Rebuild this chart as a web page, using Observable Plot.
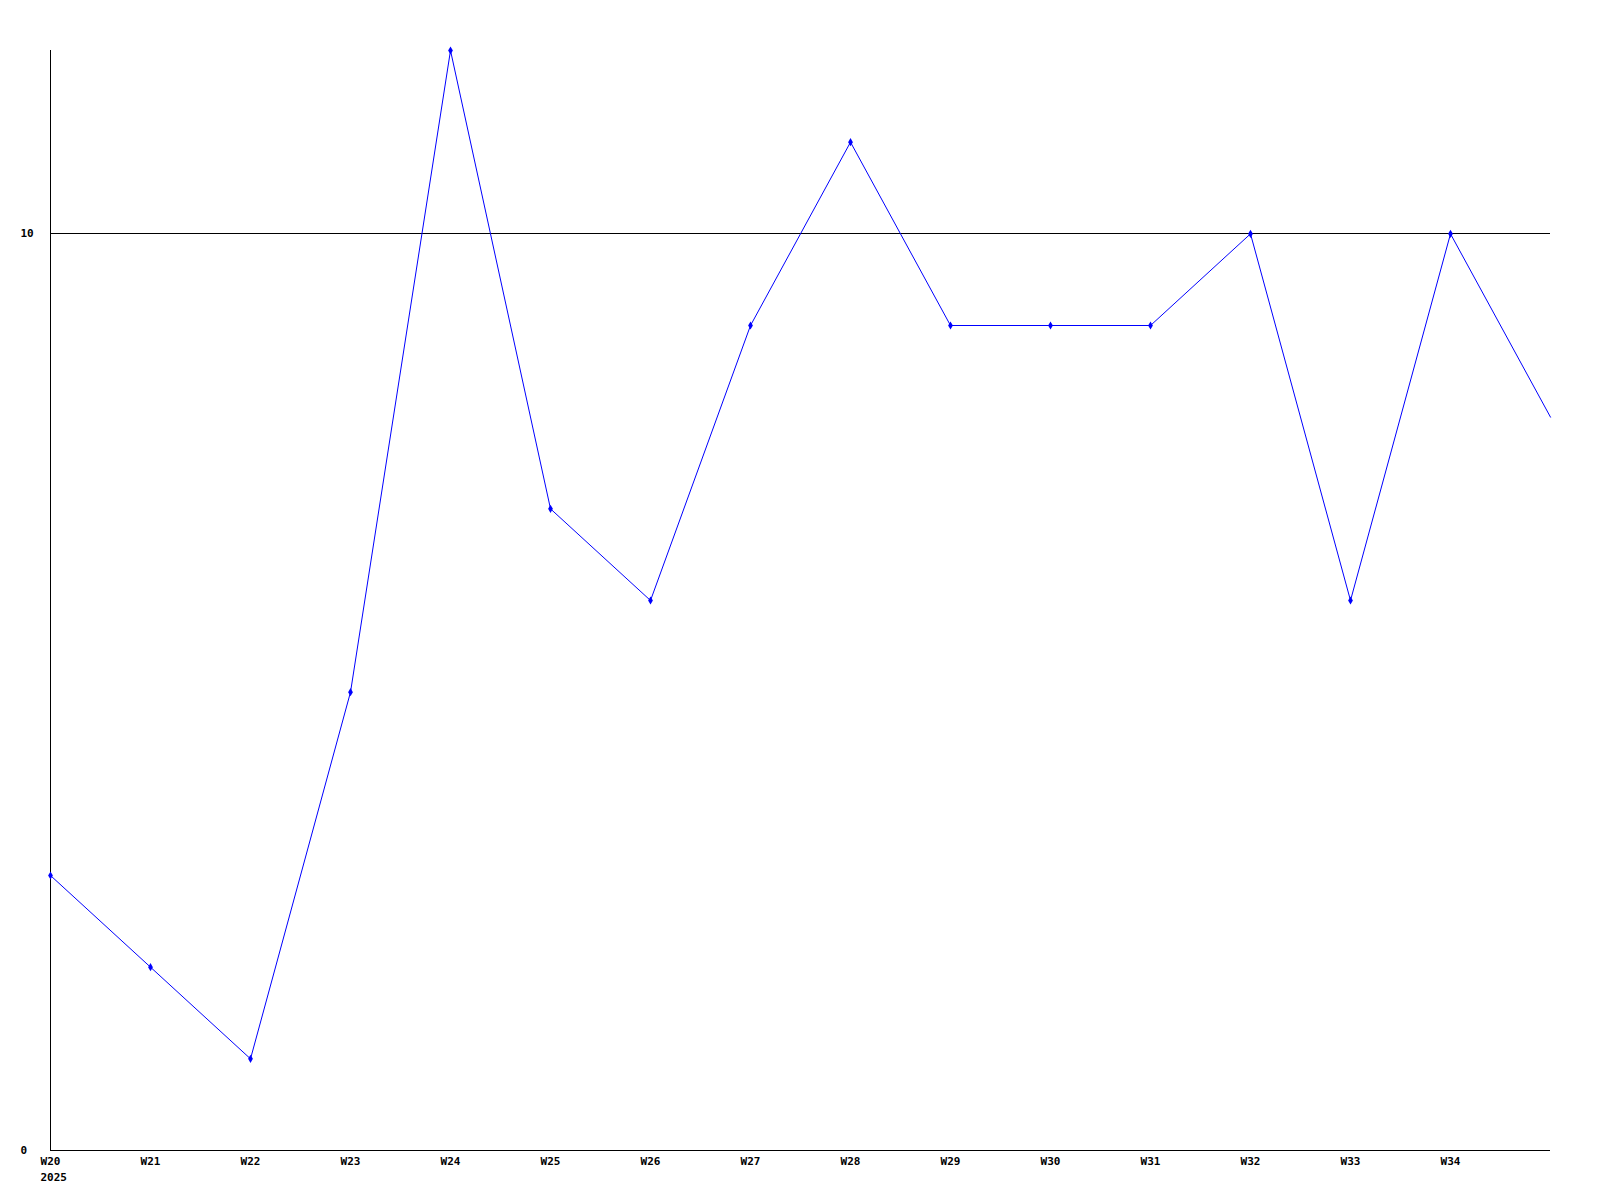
<!DOCTYPE html>
<html>
<head>
<meta charset="utf-8">
<script src="https://cdn.jsdelivr.net/npm/d3@7"></script>
<script src="https://cdn.jsdelivr.net/npm/@observablehq/plot@0.6"></script>
<style>
  html, body { margin: 0; padding: 0; background: #fff; }
</style>
</head>
<body>
<div id="chart"></div>
<script>
const weeks = [20, 21, 22, 23, 24, 25, 26, 27, 28, 29, 30, 31, 32, 33, 34, 35];
const values = [3, 2, 1, 5, 12, 7, 6, 9, 11, 9, 9, 9, 10, 6, 10, 8];
const tickWeeks = [20, 21, 22, 23, 24, 25, 26, 27, 28, 29, 30, 31, 32, 33, 34];
const yTicks = [0, 10];
const yearLabel = "2025";
const refLine = [10];

const data = weeks.map((w, i) => ({week: w, value: values[i]}));
const markerData = data.filter(d => d.week <= 34);

const chart = Plot.plot({
  width: 1600,
  height: 1200,
  marginLeft: 50,
  marginRight: 50,
  marginTop: 50,
  marginBottom: 50,
  style: {fontFamily: "'DejaVu Sans Mono', monospace", fontSize: "11px", fontWeight: "bold", background: "#fff", color: "#000", overflow: "visible"},
  x: {type: "linear", domain: [20, 35]},
  y: {domain: [0, 12]},
  marks: [
    Plot.ruleY(refLine, {stroke: "#000", strokeWidth: 1, shapeRendering: "crispEdges"}),
    Plot.ruleX([20], {stroke: "#000", strokeWidth: 1, shapeRendering: "crispEdges"}),
    Plot.ruleY([0], {stroke: "#000", strokeWidth: 1, shapeRendering: "crispEdges"}),
    Plot.axisX({ticks: tickWeeks, tickSize: 0, tickPadding: 7, label: null, tickFormat: d => `W${d}`}),
    Plot.text([yearLabel], {x: () => 20, text: d => d, frameAnchor: "bottom", dy: 30, dx: -10, textAnchor: "start", fill: "#000"}),
    Plot.axisY({ticks: yTicks, tickSize: 0, tickPadding: 30, textAnchor: "start", label: null}),
    Plot.line(data, {x: "week", y: "value", stroke: "#0000ff", strokeWidth: 1}),
    Plot.dot(markerData, {x: "week", y: "value", symbol: "diamond", r: 2.5, fill: "#0000ff", stroke: "none"})
  ]
});
document.getElementById("chart").appendChild(chart);
</script>
</body>
</html>
